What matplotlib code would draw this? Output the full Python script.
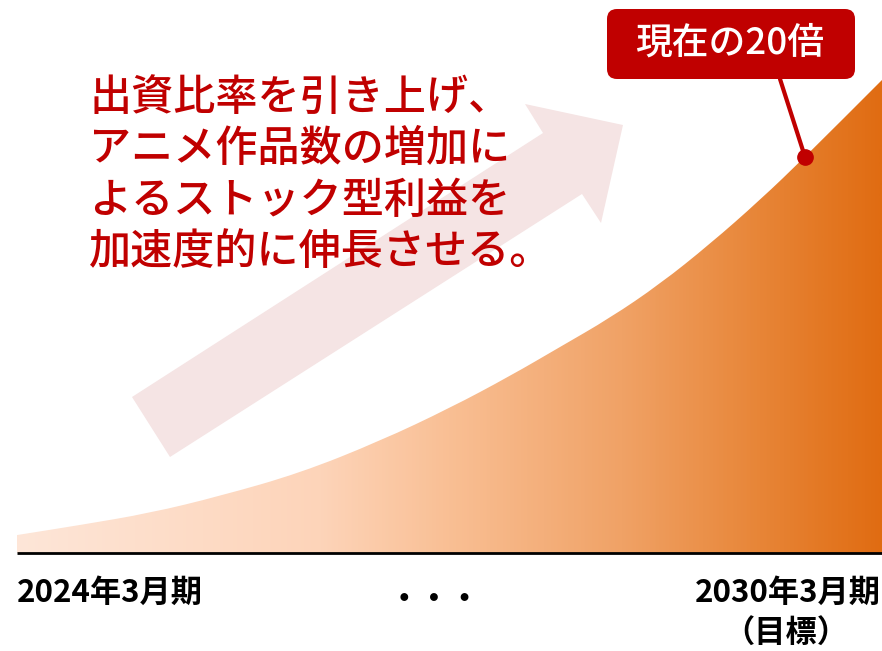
import numpy as np
import matplotlib
matplotlib.use('Agg')
import matplotlib.pyplot as plt
from matplotlib.colors import LinearSegmentedColormap
from matplotlib.patches import Polygon, FancyBboxPatch, PathPatch
from matplotlib.path import Path

plt.rcParams['font.family'] = ['Noto Sans CJK JP', 'DejaVu Sans']

# growth curve (years after 2024/3, level vs. today = 1)
years = [0, 0.437, 0.923, 1.408, 1.963, 2.518, 3.003, 3.42, 3.766,
         4.113, 4.46, 4.807, 5.154, 5.466, 6.0]
level = [1.0, 1.556, 2.222, 3.167, 4.444, 6.222, 8.056, 9.833, 11.444,
         13.056, 14.944, 17.167, 19.611, 22.0, 26.278]
marker_year = 5.466
marker_level = 22.0

start_label = '2024年3月期'
end_label = '2030年3月期'
end_note = '（目標）'
callout = '現在の20倍'
message = ['出資比率を引き上げ、',
           'アニメ作品数の増加に',
           'よるストック型利益を',
           '加速度的に伸長させる。']

red = '#c00000'

fig = plt.figure(figsize=(8.82, 6.51), dpi=100)
ax = fig.add_axes([0, 0, 1, 1])
ax.axis('off')

# smooth outline through the read points (quadratic segments between midpoints)
pts = list(zip(years, level))
verts = [(years[0], 0), pts[0]]
codes = [Path.MOVETO, Path.LINETO]
mid = lambda a, b: ((a[0] + b[0]) / 2, (a[1] + b[1]) / 2)
verts.append(mid(pts[0], pts[1]))
codes.append(Path.LINETO)
for i in range(1, len(pts) - 1):
    verts += [pts[i], mid(pts[i], pts[i + 1])]
    codes += [Path.CURVE3, Path.CURVE3]
verts += [pts[-1], (years[-1], 0), (years[0], 0)]
codes += [Path.LINETO, Path.LINETO, Path.CLOSEPOLY]
area = PathPatch(Path(verts, codes), facecolor='none', edgecolor='none')
ax.add_patch(area)

cmap = LinearSegmentedColormap.from_list('peach', [
    (0.0, '#fee6d8'), (0.35, '#fdd4b9'), (0.5, '#f9bf94'),
    (0.7, '#f0a266'), (0.85, '#e8873a'), (1.0, '#e06c12')])
grad = np.linspace(0, 1, 512).reshape(1, -1)
im = ax.imshow(grad, cmap=cmap, aspect='auto', extent=(0, 6, 0, 27),
               origin='lower', zorder=1)
im.set_clip_path(area)
ax.set_xlim(-0.118, 6.0)
ax.set_ylim(-5.44, 30.72)

ax.plot([0, 6], [0, 0], color='black', lw=2, zorder=3, solid_capstyle='butt')

# overlay in pixel units for the decorations
ov = fig.add_axes([0, 0, 1, 1])
ov.set_xlim(0, 882)
ov.set_ylim(651, 0)
ov.axis('off')

arrow = Polygon([(132, 397), (543, 133), (525, 104), (623, 125),
                 (601, 223), (582, 194), (170, 457)],
                closed=True, facecolor='#f5e4e4', edgecolor='none', zorder=1)
ov.add_patch(arrow)

for i, line in enumerate(message):
    ov.text(89, 97 + i * 51.5, line, color=red, fontsize=30.3,
            fontweight='medium', ha='left', va='center', zorder=3)

# callout box and leader
box = FancyBboxPatch((607, 9), 248, 70, boxstyle='round,pad=0,rounding_size=10',
                     facecolor=red, edgecolor='none', zorder=4)
ov.add_patch(box)
ov.text(730, 43, callout, color='white', fontsize=26.5, fontweight='medium',
        ha='center', va='center', zorder=5)
ax.annotate('', xy=(marker_year, marker_level), xycoords='data',
            xytext=(780, 79), textcoords=ov.transData,
            arrowprops=dict(arrowstyle='-', lw=3, color=red,
                            shrinkA=0, shrinkB=0), zorder=5)
ax.plot([marker_year], [marker_level], 'o', color=red, markersize=11, zorder=6)

# x labels
ov.text(17, 593, start_label, fontsize=22.5, fontweight='bold',
        ha='left', va='center', color='black')
ov.text(881, 593, end_label, fontsize=22.5, fontweight='bold',
        ha='right', va='center', color='black')
ov.text(786, 634, end_note, fontsize=22.5, fontweight='bold',
        ha='center', va='center', color='black')
ov.text(435, 600, '・・・', fontsize=22, fontweight='bold',
        ha='center', va='center', color='black')

fig.savefig('out.png', dpi=100)
